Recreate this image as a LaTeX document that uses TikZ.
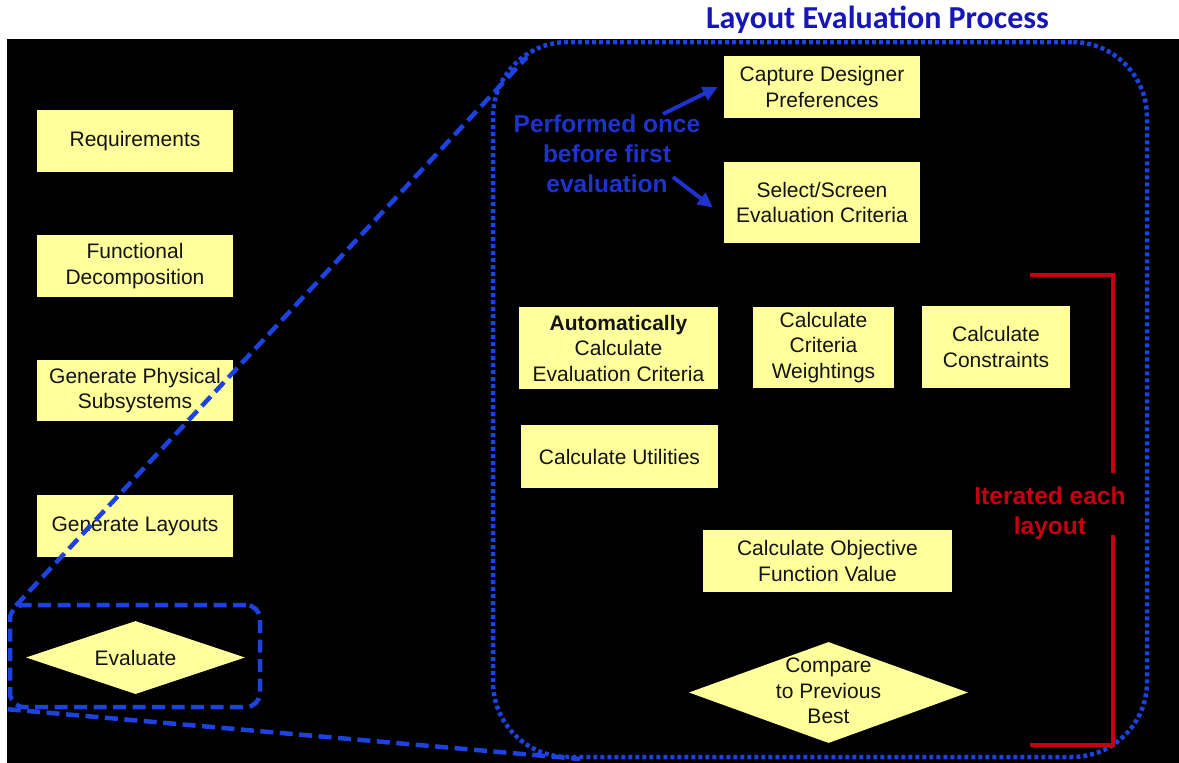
\documentclass[tikz,border=0pt]{standalone}
\usepackage{fontspec}
\setmainfont{Liberation Sans}
\newfontfamily\titlefont{Carlito}
\usetikzlibrary{shapes.geometric,arrows.meta}

\definecolor{boxfill}{RGB}{255,255,156}
\definecolor{zoomblue}{RGB}{28,66,224}
\definecolor{noteblue}{RGB}{30,50,205}
\definecolor{titleblue}{RGB}{22,22,185}
\definecolor{iterred}{RGB}{195,0,16}
\definecolor{boxtext}{RGB}{20,20,20}

\begin{document}
\begin{tikzpicture}[x=1pt,y=-1pt,
  stepbox/.style={fill=boxfill, draw=none, inner sep=0pt, align=center,
    text=boxtext, font=\fontsize{21}{25.5}\selectfont},
  steptext/.style={inner sep=0pt, align=center, text=boxtext,
    font=\fontsize{21}{25.5}\selectfont},
  decision/.style={diamond, fill=boxfill, draw=none, inner sep=0pt, aspect=3,
    text=boxtext, font=\fontsize{21}{25.5}\selectfont},
  zoomdash/.style={draw=zoomblue, line width=4.5pt, dash pattern=on 13pt off 6.5pt},
  zoomdot/.style={draw=zoomblue, line width=4.5pt, dash pattern=on 4pt off 3pt},
  notetext/.style={align=center, inner sep=0pt, text=noteblue,
    font=\bfseries\fontsize{24.5}{30}\selectfont},
  notearrow/.style={draw=noteblue, line width=4pt, -{Triangle[length=15pt,width=14pt]}},
  itertext/.style={align=center, inner sep=0pt, text=iterred,
    font=\bfseries\fontsize{24.5}{30}\selectfont},
  bracket/.style={draw=iterred, line width=3.5pt}
]
% page and dark panel
\fill[white] (0,0) rectangle (1179,763);
\fill[black] (7,39) rectangle (1179,763);
\useasboundingbox (0,0) rectangle (1179,763);

% heading
\node[anchor=base, inner sep=0pt, text=titleblue,
  font=\titlefont\bfseries\fontsize{32}{38}\selectfont] (title) at (877.5,28.5)
  {Layout Evaluation Process};

% overall design flow
\node[stepbox, minimum width=196pt, minimum height=62pt] (req)  at (135,141)   {Requirements};
\node[stepbox, minimum width=196pt, minimum height=62pt] (func) at (135,266)   {Functional\\Decomposition};
\node[stepbox, minimum width=196pt, minimum height=61pt] (phys) at (135,390.5) {Generate Physical\\Subsystems};
\node[stepbox, minimum width=196pt, minimum height=62pt] (lay)  at (135,526)   {Generate Layouts};
\node[decision, minimum width=219pt, minimum height=73pt] (eval) at (135.5,657.5) {Evaluate};

% frame around the evaluation step
\node[zoomdash, rounded corners=14pt, minimum width=250pt, minimum height=102pt,
  inner sep=0pt] (evframe) at (135,656) {};

% expanded evaluation process
\node[zoomdot, rounded corners=75pt, minimum width=654pt, minimum height=715pt,
  inner sep=0pt] (proc) at (820,399.5) {};

\node[stepbox, minimum width=196pt, minimum height=62pt] (cap)  at (822,87)    {Capture Designer\\Preferences};
\node[stepbox, minimum width=196pt, minimum height=81pt] (sel)  at (822,202.5) {Select/Screen\\Evaluation Criteria};
\node[stepbox, minimum width=199pt, minimum height=82pt] (auto) at (618.5,348)  {\textbf{Automatically}\\Calculate\\Evaluation Criteria};
\node[stepbox, minimum width=141pt, minimum height=81pt] (wts)  at (823.5,347.5) {Calculate\\Criteria\\Weightings};
\node[stepbox, minimum width=148pt, minimum height=82pt] (con)  at (996,347)    {Calculate\\Constraints};
\node[stepbox, minimum width=197pt, minimum height=63pt] (util) at (619.5,456.5) {Calculate Utilities};
\node[stepbox, minimum width=249pt, minimum height=62pt] (obj)  at (827.5,561)  {Calculate Objective\\Function Value};
\node[decision, minimum width=279pt, minimum height=101pt] (cmp) at (828.5,692.5) {};
\node[steptext] (cmptext) at (828.5,691) {Compare\\to Previous\\Best};

% one-time steps
\node[notetext] (once) at (607,154) {Performed once\\before first\\evaluation};
\coordinate (once1) at (663,114);
\coordinate (once2) at (673,177);
\draw[notearrow] (once1) -- ([xshift=-6pt]cap.west);
\draw[notearrow] (once2) -- ([xshift=-11pt,yshift=-5pt]sel.west);

% per-layout loop
\node[itertext] (iter) at (1050,513) {Iterated each\\layout};
\coordinate (bra) at (1030,275);
\coordinate (brb) at (1113,275);
\coordinate (brc) at (1113,473);
\coordinate (brd) at (1113,535);
\coordinate (bre) at (1113,745);
\coordinate (brf) at (1030,745);
\draw[bracket] (bra) -- (brb) -- (brc);
\draw[bracket] (brd) -- (bre) -- (brf);

% zoom lines from the evaluation step to its expansion
\coordinate (zoomtop) at (527,57);
\coordinate (zoombot) at (580,759);
\draw[zoomdash] ([shift={(8pt,-3pt)}]evframe.north west) -- (zoomtop);
\draw[zoomdash] (evframe.south west) -- (zoombot);
\end{tikzpicture}
\end{document}
